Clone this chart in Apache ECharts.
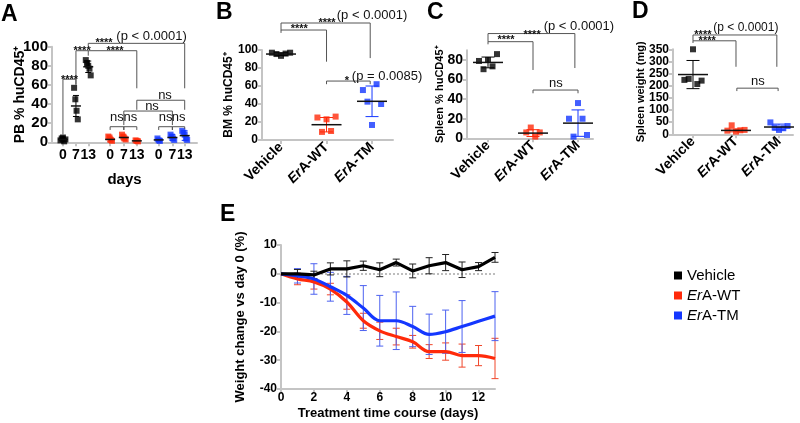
<!DOCTYPE html>
<html><head><meta charset="utf-8">
<script src="https://cdn.jsdelivr.net/npm/echarts@6/dist/echarts.min.js"></script>
<style>html,body{margin:0;padding:0;background:#fff}#c{width:800px;height:423px}</style>
</head><body><div id="c"></div><script>
// ---------------- DATA ----------------
// Panel A: PB % huCD45+ by day (0, 7, 13) for each group
const aTickLabels = ['0','7','13','0','7','13','0','7','13'];
const aVehiclePts = [[2,4,5,1,3],[57,45,33,24],[86,83,80,77,70]];
const aWTPts      = [[6,5,2.5,1.5],[8,6,4,3],[2,1.5,1]];
const aTMPts      = [[4,2,1.5],[8,6,4,2.5],[12,10,8,4,2.5]];
const aVehicleMean = [3,38,79],   aVehicleSD = [2.5,11,6];
const aWTMean      = [3,5,1.5],   aWTSD      = [2.5,2.5,0.8];
const aTMMean      = [2.5,5,7],   aTMSD      = [1.5,3,5];

// Panels B-D categories
const groups = ['Vehicle','ErA-WT','ErA-TM'];
// Panel B: BM % huCD45+
const bPts  = [[97,95.5,93.5,96,97],[25,9,23,10,26],[55.5,42.6,16.7,62,40]];
const bMean = [95.5,17,43], bSD = [1.5,8,17];
// Panel C: Spleen % huCD45+
const cPts  = [[79,70.6,80,73.5,86],[6,11,1.7,6],[20,1.7,36,20,3.4]];
const cMean = [77.5,5.3,15.5], cSD = [5.5,3.5,13.5];
// Panel D: Spleen weight (mg)
const dPts  = [[224,228,350,207,221],[15,37,11,16.5,18],[49,27.5,18,25,34]];
const dMean = [246,16,30], dSD = [58,6,12];

// Panel E: weight change vs day 0 (%)
const eDays = [0,1,2,3,4,5,6,7,8,9,10,11,12,13];
const eTicks = [0,2,4,6,8,10,12];
const eVehicle   = [0,0,-0.4,1.7,1.7,2.8,1.4,3.9,1.0,2.8,3.9,1.4,2.5,5.7];
const eVehicleSD = [0,1.5,1.3,2.1,2.8,1.6,2.4,1.2,2.4,2.8,2.8,2.7,1.4,1.7];
const eWT        = [0,-1.8,-2.8,-5.3,-9.8,-16.3,-19.8,-21.8,-23.6,-27,-27,-28.4,-28.4,-29.4];
const eWTSD      = [0,2,2.5,2,2.5,2.6,3,2.9,2.2,2.4,3,4,3.5,7];
const eTM        = [0,-0.7,-1.8,-4.5,-7.5,-11.9,-16.3,-16.3,-18.3,-21,-20.1,-18.3,-16.5,-14.7];
const eTMSD      = [0,2.5,5.3,5,6.6,7.8,8.8,10,7,7,7.5,9,null,8.5];

// Significance annotations (brackets: [x1, x2, yBar, yLeftEnd, yRightEnd] in data units)
const aBrackets = [[0,0.95,66,8,60.6],[0.95,1.85,95.8,60,90.6],[1.85,5.4,95.8,95.8,56.5],[1.85,8.9,103.5,100,56.5],
  [3.45,4.45,16.3,12.9,12.9],[4.45,5.4,16.3,12.9,12.9],[7.0,8.0,16.3,12.9,12.9],[8.0,8.9,16.3,12.9,14],
  [4.45,8.0,32.7,18,18],[5.4,8.9,44,34,34]];
const aNotes = [[0.48,68.3,'****'],[1.40,98.3,'****'],[3.81,98.6,'****'],[3.0,107,'****'],[6.48,111.2,'(p < 0.0001)'],
  [3.95,25.4,'ns'],[4.93,25.4,'ns'],[7.5,25.4,'ns'],[8.45,25.4,'ns'],[6.51,37,'ns'],[7.46,47.7,'ns']];
const bBrackets = [[0,1,122.2,119,87],[0,1.96,130,122,91],[1,1.96,65.5,62,62]];
const bNotes = [[0.40,126.7,'****'],[1.01,133.3,'****'],[2.0,138.9,'(p < 0.0001)'],[1.45,68.9,'*'],[2.33,71,'(p = 0.0085)']];
const cBrackets = [[0,1,98.7,96,69.8],[0,1.93,107,98.7,71.8],[1,2,49.3,46,46]];
const cNotes = [[0.4,103.5,'****'],[0.98,108.9,'****'],[2.02,114,'(p < 0.0001)'],[1.51,55.2,'ns']];
const dBrackets = [[0,1,385,376,278],[0,1.95,409,385,278],[1.02,1.98,190,178,178]];
const dNotes = [[0.33,395,'****'],[0.23,420,'****'],[1.23,437.6,'(p < 0.0001)'],[1.51,212,'ns']];

// ---------------- LAYOUT / STYLE ----------------
const FONT = '"Liberation Sans", Arial, Helvetica, sans-serif';
const BLACK = '#000000', RED = '#ff2a0a', BLUE = '#1437ff';
const AXC = '#c4c4c4';
const aPos = [0,0.95,1.85,3.45,4.45,5.4,7.0,8.0,8.9];

const chart = echarts.init(document.getElementById('c'), null, {renderer:'canvas'});

function yAx(grid, min, max, interval, name, fs, nameFs, gap){
  return {gridIndex:grid, type:'value', min, max, interval, name, nameLocation:'middle', nameGap:gap, nameMoveOverlap:false,
    nameTextStyle:{fontFamily:FONT, fontWeight:'bold', fontSize:nameFs, color:'#000'},
    axisLine:{show:true, onZero:false, lineStyle:{color:AXC, width:2}},
    axisTick:{show:true, length:4, lineStyle:{color:AXC, width:2}},
    splitLine:{show:false},
    axisLabel:{fontFamily:FONT, fontWeight:'bold', fontSize:fs, color:'#000', margin:4}};
}
const richCat = {i:{fontStyle:'italic', fontWeight:'bold', fontSize:14, fontFamily:FONT, color:'#000'},
                 n:{fontWeight:'bold', fontSize:14, fontFamily:FONT, color:'#000'}};
function catLabel(name){ return name.startsWith('Er') ? '{i|Er}{n|' + name.slice(2) + '}' : '{n|' + name + '}'; }
function xCat(grid, min, max){
  return {gridIndex:grid, type:'value', min, max,
    axisLine:{show:true, onZero:false, lineStyle:{color:AXC, width:2}},
    axisTick:{show:true, length:4, customValues:[0,1,2], lineStyle:{color:AXC, width:2}},
    splitLine:{show:false},
    axisLabel:{customValues:[0,1,2], rotate:45, margin:5, rich:richCat, hideOverlap:false,
      formatter:(v)=>catLabel(groups[Math.round(v)])}};
}

function off(i, n, step){ return (i - (n-1)/2) * step; }
function scatterSeries(grid, u, pts, color, step){
  return {type:'scatter', xAxisIndex:grid, yAxisIndex:grid, symbol:'rect', symbolSize:6, silent:true, z:3,
    itemStyle:{color}, data: pts.map((v,i)=>[u + off(i, pts.length, step), v])};
}
function meanSD(grid, data, sdColor, mw, cw){
  return {type:'custom', xAxisIndex:grid, yAxisIndex:grid, silent:true, z:4, clip:false, data,
    renderItem:(p, api)=>{
      const u=api.value(0), m=api.value(1), s=api.value(2);
      const c=api.coord([u,m]), t=api.coord([u,m+s]), b=api.coord([u,m-s]);
      const ch=[
        {type:'line', shape:{x1:c[0], y1:t[1], x2:c[0], y2:b[1]}, style:{stroke:sdColor, lineWidth:1}},
        {type:'line', shape:{x1:c[0]-cw/2, y1:t[1], x2:c[0]+cw/2, y2:t[1]}, style:{stroke:sdColor, lineWidth:1}},
        {type:'line', shape:{x1:c[0]-cw/2, y1:b[1], x2:c[0]+cw/2, y2:b[1]}, style:{stroke:sdColor, lineWidth:1}}];
      if (mw>0) ch.push({type:'line', shape:{x1:c[0]-mw/2, y1:c[1], x2:c[0]+mw/2, y2:c[1]}, style:{stroke:'#111', lineWidth:1.5}});
      return {type:'group', children:ch};
    }};
}
function bracketSeries(grid, br){
  return {type:'custom', xAxisIndex:grid, yAxisIndex:grid, silent:true, z:5, clip:false, data:br,
    renderItem:(p, api)=>{
      const p1=api.coord([api.value(0), api.value(3)]), p2=api.coord([api.value(0), api.value(2)]);
      const p3=api.coord([api.value(1), api.value(2)]), p4=api.coord([api.value(1), api.value(4)]);
      return {type:'polyline', shape:{points:[p1,p2,p3,p4]}, style:{stroke:'#555', lineWidth:1, fill:null}};
    }};
}
function noteSeries(grid, notes, pFs){
  return {type:'custom', xAxisIndex:grid, yAxisIndex:grid, silent:true, z:6, clip:false,
    data: notes.map(n=>[n[0], n[1]]),
    renderItem:(p, api)=>{
      const t = notes[p.dataIndex][2];
      const c = api.coord([api.value(0), api.value(1)]);
      let font, dy;
      if (t.startsWith('*')) { font = 'bold 11px ' + FONT; dy = 3; }
      else if (t === 'ns') { font = '13px ' + FONT; dy = -1; }
      else { font = pFs + 'px ' + FONT; dy = 0; }
      return {type:'text', x:c[0], y:c[1]+dy,
        style:{text:t, font, fill:'#111', textAlign:'center', textVerticalAlign:'middle', align:'center', verticalAlign:'middle'}};
    }};
}

const series = [];
// Panel A
[[aVehiclePts,aVehicleMean,aVehicleSD,BLACK,0],[aWTPts,aWTMean,aWTSD,RED,3],[aTMPts,aTMMean,aTMSD,BLUE,6]].forEach(g=>{
  const [pts, mean, sd, col, o] = g;
  pts.forEach((p,k)=>series.push(scatterSeries(0, aPos[o+k], p, col, 0.09)));
  series.push(meanSD(0, mean.map((m,k)=>[aPos[o+k], m, sd[k]]), col, 10, 6));
});
series.push(bracketSeries(0, aBrackets), noteSeries(0, aNotes, 13));
// Panels B-D
[[1,bPts,bMean,bSD,bBrackets,bNotes,13],[2,cPts,cMean,cSD,cBrackets,cNotes,13],[3,dPts,dMean,dSD,dBrackets,dNotes,12]].forEach(P=>{
  const [gi, pts, mean, sd, br, notes, pFs] = P;
  const cols=[BLACK,RED,BLUE];
  pts.forEach((p,k)=>{
    series.push(scatterSeries(gi, k, p, cols[k], 0.1));
    series.push(meanSD(gi, [[k, mean[k], sd[k]]], cols[k], 30, 13));
  });
  series.push(bracketSeries(gi, br), noteSeries(gi, notes, pFs));
});
// Panel E
function eLine(name, vals, col, smooth, z){
  return {type:'line', name, xAxisIndex:4, yAxisIndex:4, data: eDays.map((d,i)=>[d, vals[i]]),
    showSymbol:false, symbol:'none', smooth, lineStyle:{color:col, width:3.2}, itemStyle:{color:col}, z, silent:true};
}
function eErr(vals, sds, col){
  return {type:'custom', xAxisIndex:4, yAxisIndex:4, silent:true, z:4, clip:false,
    data: eDays.map((d,i)=>[d, vals[i], sds[i]==null ? NaN : sds[i]]),
    renderItem:(p, api)=>{
      const s=api.value(2); if (!(s>0)) return null;
      const u=api.value(0), m=api.value(1);
      const t=api.coord([u,m+s]), b=api.coord([u,m-s]);
      const st={stroke:col, lineWidth:1};
      return {type:'group', children:[
        {type:'line', shape:{x1:t[0], y1:t[1], x2:t[0], y2:b[1]}, style:st},
        {type:'line', shape:{x1:t[0]-3.5, y1:t[1], x2:t[0]+3.5, y2:t[1]}, style:st},
        {type:'line', shape:{x1:t[0]-3.5, y1:b[1], x2:t[0]+3.5, y2:b[1]}, style:st}]};
    }};
}
const vehLine = eLine('Vehicle', eVehicle, BLACK, false, 7);
vehLine.markLine = {silent:true, symbol:'none', label:{show:false}, data:[{yAxis:0}],
  lineStyle:{color:'#bdbdbd', type:'dotted', width:2}, z:1};
series.push(eErr(eWT, eWTSD, '#f0462a'), eErr(eTM, eTMSD, '#4d62f0'), eErr(eVehicle, eVehicleSD, '#222'));
series.push(eLine('ErA-WT', eWT, RED, 0.35, 5), eLine('ErA-TM', eTM, BLUE, 0.35, 6), vehLine);

const titleStyle = {fontFamily:FONT, fontWeight:'bold', fontSize:23, color:'#000'};
const option = {
  animation:false,
  backgroundColor:'#fff',
  title:[
    {text:'A', left:1, top:3, padding:0, textStyle:titleStyle},
    {text:'B', left:216, top:1, padding:0, textStyle:titleStyle},
    {text:'C', left:427, top:1, padding:0, textStyle:titleStyle},
    {text:'D', left:632, top:0, padding:0, textStyle:titleStyle},
    {text:'E', left:220, top:203, padding:0, textStyle:titleStyle}],
  legend:{data:['Vehicle','ErA-WT','ErA-TM'], orient:'vertical', left:669, top:263, itemWidth:8, itemHeight:8,
    itemGap:5, icon:'rect', selectedMode:false,
    textStyle:{fontFamily:FONT, fontSize:15, color:'#000', rich:{i:{fontStyle:'italic', fontSize:15, fontFamily:FONT, color:'#000'}}},
    formatter:(n)=> n.startsWith('Er') ? '{i|Er}' + n.slice(2) : n},
  grid:[
    {left:52, top:46.7, width:145, height:95.6},
    {left:262, top:50, width:131, height:90},
    {left:467, top:50.2, width:126, height:88.1},
    {left:673, top:49.3, width:120, height:85},
    {left:281, top:245, width:214, height:144}],
  xAxis:[
    {gridIndex:0, type:'value', min:-0.8, max:9.8, name:'days', nameLocation:'middle', nameGap:30, nameMoveOverlap:false,
      nameTextStyle:{fontFamily:FONT, fontWeight:'bold', fontSize:15, color:'#000'},
      axisLine:{show:true, onZero:false, lineStyle:{color:AXC, width:2}},
      axisTick:{show:true, length:4, customValues:aPos, lineStyle:{color:AXC, width:2}},
      splitLine:{show:false},
      axisLabel:{customValues:aPos, hideOverlap:false, showMinLabel:true, showMaxLabel:true,
        fontFamily:FONT, fontWeight:'bold', fontSize:14, color:'#000', margin:6,
        formatter:(v)=>{ const i=aPos.findIndex(p=>Math.abs(p-v)<1e-6); return i<0?'':aTickLabels[i]; }}},
    xCat(1, -0.418, 2.461),
    xCat(2, -0.467, 2.333),
    xCat(3, -0.465, 2.326),
    {gridIndex:4, type:'value', min:0, max:13, name:'Treatment time course (days)', nameLocation:'middle', nameGap:18, nameMoveOverlap:false,
      nameTextStyle:{fontFamily:FONT, fontWeight:'bold', fontSize:13, color:'#000'},
      axisLine:{show:true, onZero:false, lineStyle:{color:AXC, width:2}},
      axisTick:{show:true, length:4, customValues:eTicks, lineStyle:{color:AXC, width:2}},
      splitLine:{show:false},
      axisLabel:{customValues:eTicks, fontFamily:FONT, fontWeight:'bold', fontSize:12, color:'#000', margin:3}}],
  yAxis:[
    yAx(0, 0, 100, 20, 'PB % huCD45⁺', 15, 14, 25),
    yAx(1, 0, 100, 20, 'BM % huCD45⁺', 12, 12, 27),
    yAx(2, 0, 90, 20, 'Spleen % huCD45⁺', 14, 11, 22),
    yAx(3, 0, 350, 50, 'Spleen weight (mg)', 12, 11, 27),
    yAx(4, -40, 10, 10, 'Weight change vs day 0 (%)', 12, 13, 34)],
  series
};
// C axis: ticks only up to 80
option.yAxis[2].axisLabel.customValues = [0,20,40,60,80];
option.yAxis[2].axisTick.customValues = [0,20,40,60,80];
chart.setOption(option);
</script></body></html>
